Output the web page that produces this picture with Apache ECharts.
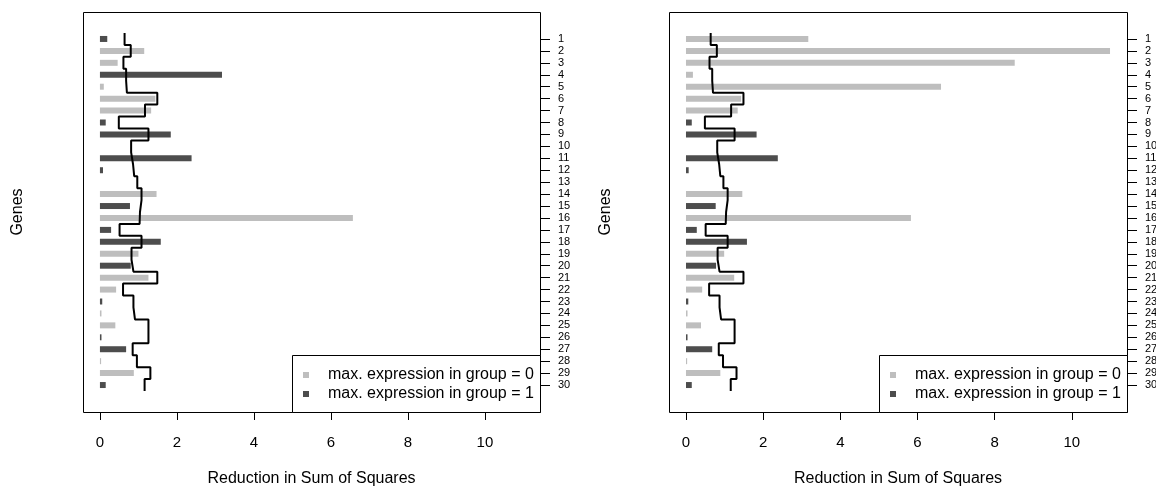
<!DOCTYPE html>
<html>
<head>
<meta charset="utf-8">
<script src="https://cdn.jsdelivr.net/npm/echarts@6/dist/echarts.min.js"></script>
<style>html,body{margin:0;padding:0;background:#fff;}#c{width:1156px;height:487px;}</style>
</head>
<body>
<div id="c"></div>
<script>
// ---- data ----
const genes = ['1','2','3','4','5','6','7','8','9','10','11','12','13','14','15','16','17','18','19','20','21','22','23','24','25','26','27','28','29','30'];
const panel1Values = [0.19,1.15,0.46,3.17,0.10,1.44,1.33,0.15,1.84,0,2.38,0.08,0,1.47,0.78,6.57,0.29,1.58,1.00,0.80,1.26,0.42,0.06,0.04,0.40,0.04,0.68,0.03,0.88,0.15];
const panel1Groups = [1,0,0,1,0,0,0,1,1,0,1,1,0,0,1,0,1,1,0,1,0,0,1,0,0,1,1,0,0,1];
const panel2Values = [3.17,10.99,8.52,0.18,6.61,1.43,1.34,0.15,1.83,0,2.38,0.07,0,1.46,0.77,5.83,0.28,1.58,0.99,0.78,1.25,0.42,0.06,0.04,0.39,0.04,0.68,0.03,0.89,0.15];
const panel2Groups = [0,0,0,0,0,0,0,1,1,0,1,1,0,0,1,0,1,1,0,1,0,0,1,0,0,1,1,0,0,1];
const stepValues = [0.64,0.80,0.61,0.68,0.70,1.49,1.17,0.49,1.26,0.81,0.86,0.89,0.97,1.08,1.04,1.03,0.51,1.08,0.82,0.87,1.49,0.60,0.87,0.91,1.26,1.26,0.85,0.96,1.31,1.16];
const xTicks = [0,2,4,6,8,10];
const legendNames = ['max. expression in group = 0','max. expression in group = 1'];
const xTitle = 'Reduction in Sum of Squares';
const yTitle = 'Genes';

// ---- styling ----
const FONT = 'Liberation Sans, Arial, Helvetica, sans-serif';
const LIGHT = '#bebebe', DARK = '#4d4d4d';
const panels = [
  {values: panel1Values, groups: panel1Groups, boxL: 83, boxR: 540, nameGap: 57},
  {values: panel2Values, groups: panel2Groups, boxL: 669, boxR: 1127, nameGap: 55}
];
const W = 1156, H = 487, boxTop = 12, boxBottom = 412, bandTop = 33, bandBottom = 391;

const grid = [], xAxis = [], yAxis = [], series = [], legend = [], graphic = [];
panels.forEach((p, k) => {
  grid.push({left: p.boxL, right: W - p.boxR, top: bandTop, bottom: H - bandBottom, containLabel: false, outerBoundsMode: 'none'});
  xAxis.push({
    type: 'value', gridIndex: k, min: -0.44, max: 11.43, position: 'bottom', offset: boxBottom - bandBottom,
    axisLine: {show: false, onZero: false}, splitLine: {show: false},
    axisTick: {show: true, length: 8, lineStyle: {color: '#000'}, customValues: xTicks},
    axisLabel: {color: '#000', fontSize: 15, fontFamily: FONT, margin: 23, customValues: xTicks},
    name: xTitle, nameLocation: 'middle', nameGap: 59,
    nameTextStyle: {color: '#000', fontSize: 16, fontFamily: FONT}
  });
  // category axis: bars + right-hand gene labels
  yAxis.push({
    type: 'category', gridIndex: k, data: genes, inverse: true, position: 'right',
    axisLine: {show: false, onZero: false}, splitLine: {show: false},
    axisTick: {show: true, alignWithLabel: true, length: 10, lineStyle: {color: '#000'}},
    axisLabel: {color: '#000', fontSize: 11, fontFamily: FONT, margin: 18, interval: 0}
  });
  // value axis for the step line (same bands) + the "Genes" title
  yAxis.push({
    type: 'value', gridIndex: k, min: 0.5, max: 30.5, inverse: true, position: 'left',
    axisLine: {show: false, onZero: false}, axisTick: {show: false}, axisLabel: {show: false}, splitLine: {show: false},
    name: yTitle, nameLocation: 'middle', nameGap: p.nameGap, nameRotate: 90,
    nameTextStyle: {color: '#000', fontSize: 16, fontFamily: FONT}
  });
  series.push({
    type: 'bar', name: legendNames[0], xAxisIndex: k, yAxisIndex: 2 * k, barWidth: 6, barGap: '-100%',
    itemStyle: {color: LIGHT},
    data: p.values.map((v, i) => p.groups[i] === 0 ? v : '-')
  });
  series.push({
    type: 'bar', name: legendNames[1], xAxisIndex: k, yAxisIndex: 2 * k, barWidth: 6, barGap: '-100%',
    itemStyle: {color: DARK},
    data: p.values.map((v, i) => p.groups[i] === 1 ? v : '-')
  });
  const stepData = [];
  stepValues.forEach((v, i) => { stepData.push([v, i + 0.5]); stepData.push([v, i + 1.5]); });
  series.push({
    type: 'line', xAxisIndex: k, yAxisIndex: 2 * k + 1, data: stepData, symbol: 'none', z: 5,
    lineStyle: {color: '#000', width: 2}, silent: true
  });
  legend.push({
    left: p.boxR - 237, top: 367, orient: 'vertical', padding: 0, itemGap: 3,
    itemWidth: 6, itemHeight: 6, icon: 'rect', data: legendNames,
    textStyle: {color: '#000', fontSize: 16, fontFamily: FONT, padding: [0, 0, 0, 14]}
  });
  graphic.push({type: 'rect', z: -1, shape: {x: p.boxL + 0.5, y: boxTop + 0.5, width: p.boxR - p.boxL, height: boxBottom - boxTop},
    style: {fill: 'none', stroke: '#000', lineWidth: 1}});
  graphic.push({type: 'rect', z: 0, shape: {x: p.boxR - 248 + 0.5, y: 355 + 0.5, width: 248, height: boxBottom - 355},
    style: {fill: '#fff', stroke: '#000', lineWidth: 1}});
});

const chart = echarts.init(document.getElementById('c'), null, {renderer: 'canvas'});
chart.setOption({animation: false, backgroundColor: '#fff', grid, xAxis, yAxis, series, legend, graphic});
</script>
</body>
</html>
